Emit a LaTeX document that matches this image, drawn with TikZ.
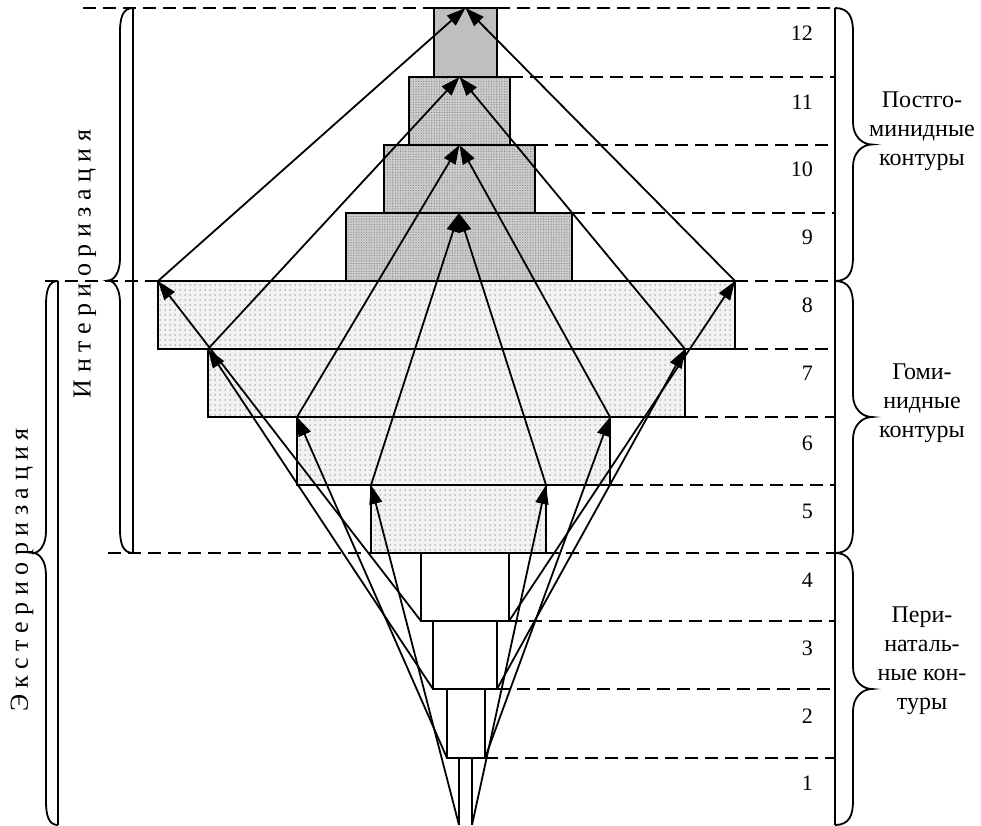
\documentclass[tikz,border=0pt]{standalone}
\usepackage{fontspec}
\setmainfont{Liberation Serif}
\usetikzlibrary{arrows.meta,patterns.meta}
\newcommand\mybrace[5]{%
 \draw[brc] (#1,#2) .. controls ({#1+0.8*(#4)},#2) and ({#1+(#4)},{#2+10}) .. ({#1+(#4)},{#2+24})
   -- ({#1+(#4)},{(#2+#3)/2-22}) .. controls ({#1+(#4)},{(#2+#3)/2-8}) and ({#1+0.5*((#4)+(#5))},{(#2+#3)/2}) .. ({#1+(#5)},{(#2+#3)/2})
   .. controls ({#1+0.5*((#4)+(#5))},{(#2+#3)/2}) and ({#1+(#4)},{(#2+#3)/2+8}) .. ({#1+(#4)},{(#2+#3)/2+22})
   -- ({#1+(#4)},{#3-24}) .. controls ({#1+(#4)},{#3-10}) and ({#1+0.8*(#4)},#3) .. (#1,#3);}
\begin{document}
\begin{tikzpicture}[x=1pt,y=-1pt,
  boxline/.style={draw=black, line width=1.9pt, outer sep=0pt, inner sep=0pt, anchor=north west},
  lvlA/.style={boxline, fill=white},
  lvlB/.style={boxline, preaction={fill=black!5}, pattern={Dots[distance=5pt,radius=0.75pt]}, pattern color=black!45},
  lvlC/.style={boxline, preaction={fill=black!20}, pattern={Dots[distance=2.6pt,radius=0.6pt]}, pattern color=black!50},
  lvlD/.style={boxline, fill=black!25},
  arr/.style={-{Triangle[length=19pt,width=13pt]}, line width=1.8pt},
  dsh/.style={line width=1.9pt, dash pattern=on 13pt off 7pt},
  brc/.style={line width=1.8pt},
  num/.style={anchor=east, inner sep=0pt, font=\fontsize{22}{26}\selectfont},
  grp/.style={align=center, inner sep=0pt, font=\fontsize{24}{29}\selectfont},
  vtext/.style={rotate=90, inner sep=0pt, font=\fontsize{26}{30}\selectfont}
]
\useasboundingbox (0,0) rectangle (981,825);
% boxes
\node[lvlD, minimum width=63, minimum height=69] (b12) at (434,8) {};
\node[lvlC, minimum width=101, minimum height=68] (b11) at (409,77) {};
\node[lvlC, minimum width=151, minimum height=68] (b10) at (384,145) {};
\node[lvlC, minimum width=226, minimum height=68] (b9) at (346,213) {};
\node[lvlB, minimum width=577, minimum height=68] (b8) at (158,281) {};
\node[lvlB, minimum width=477, minimum height=68] (b7) at (208,349) {};
\node[lvlB, minimum width=313, minimum height=68] (b6) at (297,417) {};
\node[lvlB, minimum width=175, minimum height=68] (b5) at (371,485) {};
\node[lvlA, minimum width=88, minimum height=68] (b4) at (421,553) {};
\node[lvlA, minimum width=64, minimum height=68] (b3) at (433,621) {};
\node[lvlA, minimum width=38, minimum height=69] (b2) at (447,689) {};
\node[inner sep=0pt, outer sep=0pt, minimum width=13, minimum height=67, anchor=north west] (b1) at (459,758) {};
\draw[line width=1.9pt] (b1.north west) -- (b1.south west) (b1.north east) -- (b1.south east);
% right scale line
\coordinate (R) at (835,0);
\coordinate (Rb) at (835,825);
\draw[line width=1.9pt] (R|-b12.north) -- (Rb);
% dashed level lines
\coordinate (Ltop) at (83,8);
\coordinate (L8) at (45,281);
\coordinate (L4) at (108,553);
\draw[dsh] (Ltop) -- (b12.north west);
\draw[dsh] (b12.north east) -- (R|-b12.north east);
\draw[dsh] (b11.north east) -- (R|-b11.north east);
\draw[dsh] (b10.north east) -- (R|-b10.north east);
\draw[dsh] (b9.north east) -- (R|-b9.north east);
\draw[dsh] (L8) -- (b8.north west);
\draw[dsh] (b8.north east) -- (R|-b8.north east);
\draw[dsh] (b8.south east) -- (R|-b8.south east);
\draw[dsh] (b7.south east) -- (R|-b7.south east);
\draw[dsh] (b6.south east) -- (R|-b6.south east);
\draw[dsh] (L4) -- (b5.south west);
\draw[dsh] (b5.south east) -- (R|-b5.south east);
\draw[dsh] (b4.south east) -- (R|-b4.south east);
\draw[dsh] (b3.south east) -- (R|-b3.south east);
\draw[dsh] (b2.south east) -- (R|-b2.south east);
% left lines and braces
\draw[line width=1.9pt] (133,8) -- (133,553);
\draw[line width=1.9pt] (58,281) -- (58,825);
\mybrace{133}{8}{553}{-13}{-25}
\mybrace{58}{281}{825}{-12}{-25}
\mybrace{835}{8}{281}{18}{37}
\mybrace{835}{281}{553}{18}{37}
\mybrace{835}{553}{825}{18}{37}
% arrows k -> k+4
\draw[arr] (b1.south west) -- (b5.north west);
\draw[arr] (b1.south east) -- (b5.north east);
\draw[arr] (b2.south west) -- (b6.north west);
\draw[arr] (b2.south east) -- (b6.north east);
\draw[arr] (b3.south west) -- (b7.north west);
\draw[arr] (b3.south east) -- (b7.north east);
\draw[arr] (b4.south west) -- (b8.north west);
\draw[arr] (b4.south east) -- (b8.north east);
% arrows k+4 -> k+8
\draw[arr] (b5.north west) -- (b9.north);
\draw[arr] (b5.north east) -- (b9.north);
\draw[arr] (b6.north west) -- (b10.north);
\draw[arr] (b6.north east) -- (b10.north);
\draw[arr] (b7.north west) -- (b11.north);
\draw[arr] (b7.north east) -- (b11.north);
\draw[arr] (b8.north west) -- (b12.north);
\draw[arr] (b8.north east) -- (b12.north);
% numbers
\node[num] (n12) at (813,33) {12};
\node[num] (n11) at (813,102) {11};
\node[num] (n10) at (813,169) {10};
\node[num] (n9) at (813,237) {9};
\node[num] (n8) at (813,305) {8};
\node[num] (n7) at (813,373) {7};
\node[num] (n6) at (813,443) {6};
\node[num] (n5) at (813,511) {5};
\node[num] (n4) at (813,580) {4};
\node[num] (n3) at (813,648) {3};
\node[num] (n2) at (813,716) {2};
\node[num] (n1) at (813,783) {1};
% group labels
\node[grp] (g3) at (922,131) {Постго-\\минидные\\контуры};
\node[grp] (g2) at (922,403) {Гоми-\\нидные\\контуры};
\node[grp] (g1) at (922,661) {Пери-\\наталь-\\ные кон-\\туры};
% vertical labels
\node[vtext] (tint) at (85,264) {И н т е р и о р и з а ц и я};
\node[vtext] (text) at (22,570) {Э к с т е р и о р и з а ц и я};
\end{tikzpicture}
\end{document}
